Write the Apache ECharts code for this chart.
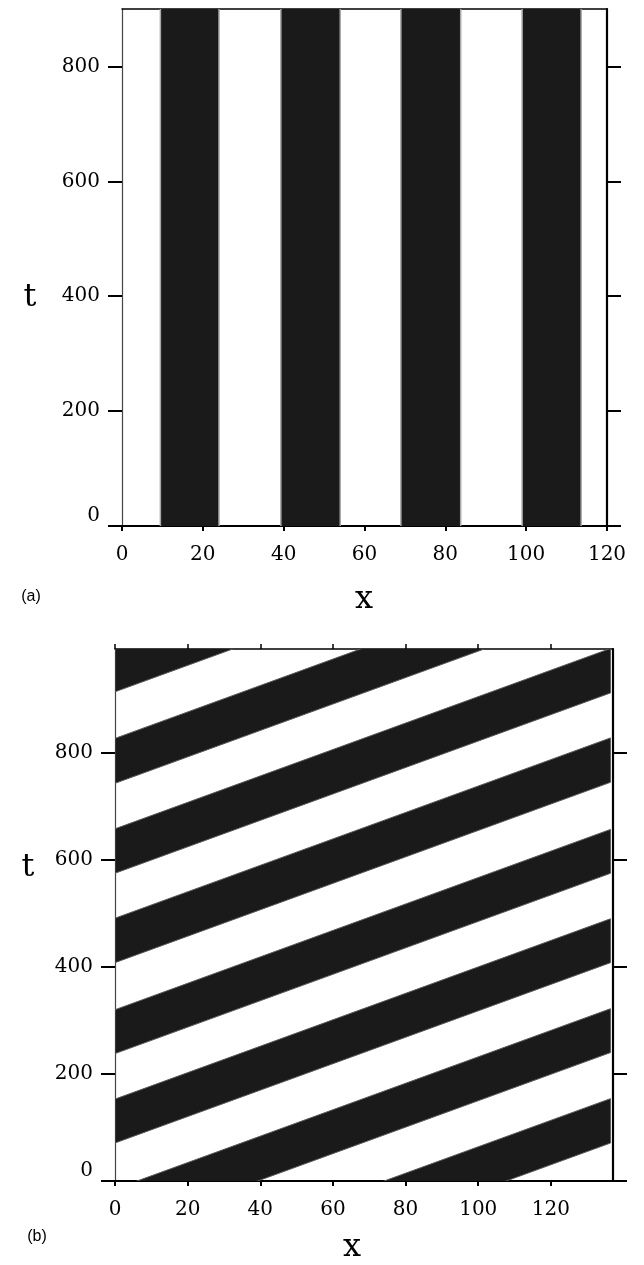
<!DOCTYPE html>
<html>
<head>
<meta charset="utf-8">
<script src="https://cdn.jsdelivr.net/npm/echarts@6/dist/echarts.min.js"></script>
<style>
	html, body { margin: 0; padding: 0; background: #ffffff; }
	#main { width: 644px; height: 1265px; }
</style>
</head>
<body>
<div id="main"></div>
<script>
/*
 * panel (a): vertical dark stripes, x range of each stripe
 */
var stripeStartA = [9.5, 39.3, 69.0, 99.0];
var stripeEndA = [24.0, 54.0, 83.8, 113.6];
var xTicksA = [0, 20, 40, 60, 80, 100, 120];
var yTicksA = [0, 200, 400, 600, 800];

/*
 * panel (b): slanted dark bands, t where each band edge meets x = 0
 */
var bandLowB = [-266, -97, 71, 238, 408, 575, 743, 914];
var bandHighB = [-183, -15, 153, 320, 491, 658, 827, 998];
var bandSlopeB = 2.47; // t per unit x along a band edge
var bandRightB = 136.4; // last x of the pattern
var xTicksB = [0, 20, 40, 60, 80, 100, 120];
var yTicksB = [0, 200, 400, 600, 800];

var serif = 'DejaVu Serif';

var stripeData = [];
for (var i = 0; i < stripeStartA.length; i++) {
	stripeData.push([stripeStartA[i], stripeEndA[i]]);
}
var bandData = [];
for (var j = 0; j < bandLowB.length; j++) {
	bandData.push([bandLowB[j], bandHighB[j]]);
}

// stripe rect runs past the grid so only its sides keep the grey edge
var renderStripe = function(params, api) {
	var p0 = api.coord([api.value(0), 930]);
	var p1 = api.coord([api.value(1), -30]);
	return {
		type : 'rect',
		shape : {
			x : p0[0],
			y : p0[1],
			width : p1[0] - p0[0],
			height : p1[1] - p0[1]
		},
		style : {
			fill : '#1a1a1a',
			stroke : '#a8a8a8',
			lineWidth : 1.5
		}
	};
};

var renderBand = function(params, api) {
	var lo = api.value(0);
	var hi = api.value(1);
	var dt = bandRightB * bandSlopeB;
	var pts = [ api.coord([0, lo]), api.coord([bandRightB, lo + dt]),
			api.coord([bandRightB, hi + dt]), api.coord([0, hi]) ];
	return {
		type : 'polygon',
		shape : {
			points : pts
		},
		style : {
			fill : '#1a1a1a',
			stroke : '#5a5a5a',
			lineWidth : 1
		}
	};
};

var bottomAxis = function(grid, max, ticks) {
	return {
		type : 'value',
		gridIndex : grid,
		position : 'bottom',
		min : 0,
		max : max,
		splitLine : { show : false },
		axisLine : { onZero : false, lineStyle : { color : '#000', width : 2 } },
		axisTick : { customValues : ticks, length : 5, lineStyle : { color : '#000', width : 2 } },
		axisLabel : { customValues : ticks, margin : 19, color : '#000', fontFamily : serif, fontSize : 20 }
	};
};
var topAxis = function(grid, max, ticks) {
	return {
		type : 'value',
		gridIndex : grid,
		position : 'top',
		min : 0,
		max : max,
		splitLine : { show : false },
		axisLine : { onZero : false, lineStyle : { color : '#000', width : 1.5 } },
		axisTick : { show : ticks != null, customValues : ticks || [], length : 5, lineStyle : { color : '#000', width : 1.5 } },
		axisLabel : { show : false }
	};
};
var leftAxis = function(grid, max, ticks) {
	return {
		type : 'value',
		gridIndex : grid,
		position : 'left',
		min : 0,
		max : max,
		splitLine : { show : false },
		axisLine : { onZero : false, lineStyle : { color : '#444', width : 1.2 } },
		axisTick : { customValues : ticks, length : 14, lineStyle : { color : '#000', width : 2 } },
		axisLabel : { customValues : ticks, margin : 22, color : '#000', fontFamily : serif, fontSize : 20,
			verticalAlignMinLabel : 'bottom' }
	};
};
var rightAxis = function(grid, max, ticks) {
	return {
		type : 'value',
		gridIndex : grid,
		position : 'right',
		min : 0,
		max : max,
		splitLine : { show : false },
		axisLine : { onZero : false, lineStyle : { color : '#000', width : 2.2 } },
		axisTick : { customValues : ticks, length : 14, lineStyle : { color : '#000', width : 2 } },
		axisLabel : { show : false }
	};
};

var titleText = function(txt, x, y, font) {
	return {
		type : 'text',
		x : x,
		y : y,
		style : { text : txt, align : 'center', verticalAlign : 'middle', font : font, fill : '#000' }
	};
};

var myChart = echarts.init(document.getElementById('main'));
var option = {
	backgroundColor : '#ffffff',
	animation : false,
	grid : [ { left : 122, top : 9, width : 485, height : 517 },
			{ left : 115, top : 649, width : 498, height : 532 } ],
	xAxis : [ bottomAxis(0, 120, xTicksA), topAxis(0, 120, null),
			bottomAxis(1, 137.1, xTicksB), topAxis(1, 137.1, xTicksB) ],
	yAxis : [ leftAxis(0, 900, yTicksA), rightAxis(0, 900, yTicksA),
			leftAxis(1, 994, yTicksB), rightAxis(1, 994, yTicksB) ],
	series : [ {
		type : 'custom',
		xAxisIndex : 0,
		yAxisIndex : 0,
		clip : true,
		encode : { x : [0, 1] },
		renderItem : renderStripe,
		data : stripeData,
		z : 1
	}, {
		type : 'custom',
		xAxisIndex : 2,
		yAxisIndex : 2,
		clip : true,
		encode : { x : [0, 1] },
		renderItem : renderBand,
		data : bandData,
		z : 1
	} ],
	graphic : [
		titleText('t', 30, 298, '32px "DejaVu Serif"'),
		titleText('x', 364, 600, '32px "DejaVu Serif"'),
		titleText('(a)', 31, 597, '16px "Liberation Sans"'),
		titleText('t', 28, 868, '32px "DejaVu Serif"'),
		titleText('x', 352, 1248, '32px "DejaVu Serif"'),
		titleText('(b)', 37, 1237, '16px "Liberation Sans"')
	]
};
myChart.setOption(option);
</script>
</body>
</html>
